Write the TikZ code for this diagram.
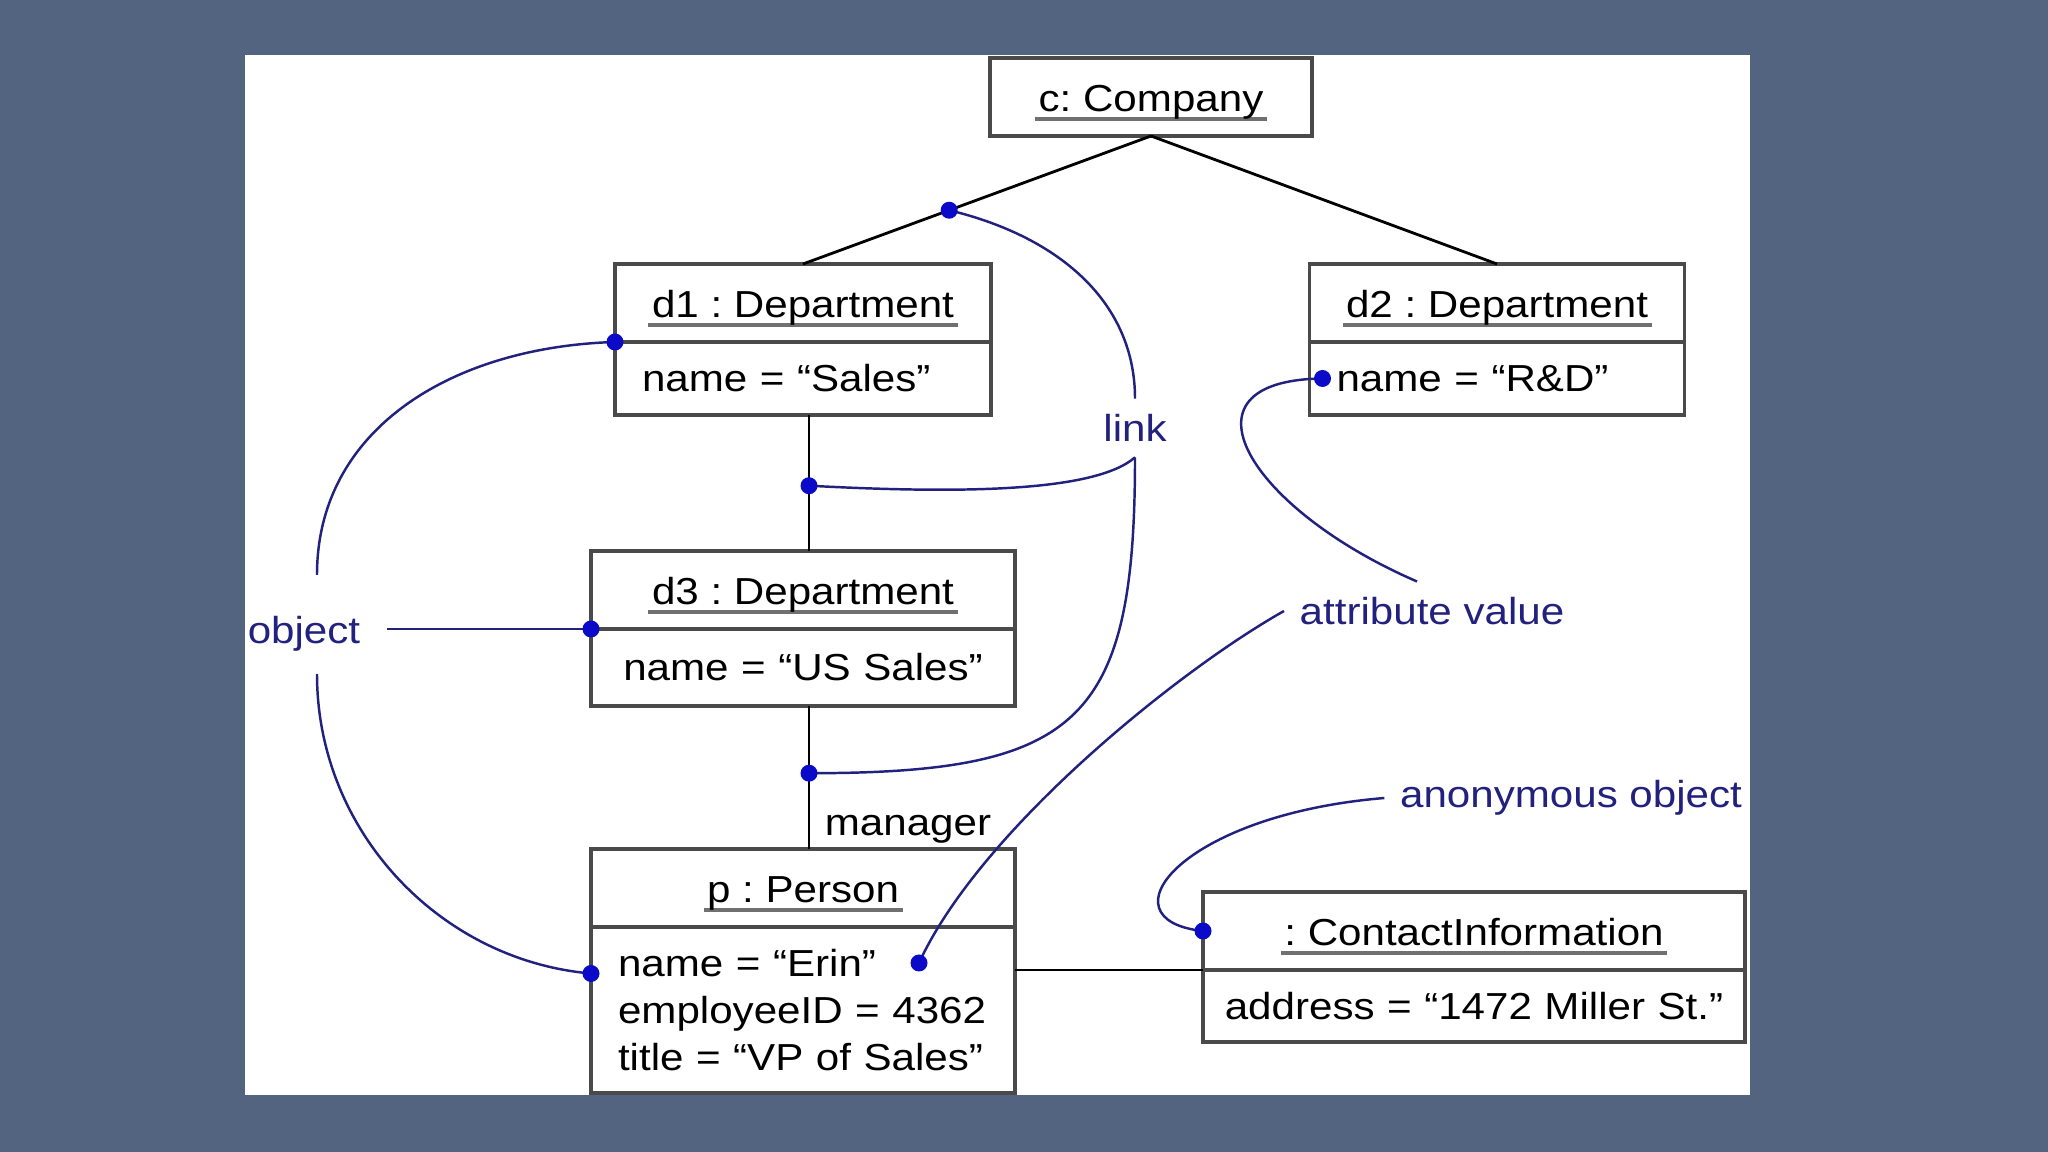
\documentclass[tikz,border=0pt]{standalone}
\usepackage{fontspec}
\setmainfont[FakeStretch=1.12]{Liberation Sans}
\usetikzlibrary{positioning,calc}
\definecolor{SlideSlate}{HTML}{526480}
\definecolor{BoxGray}{HTML}{4A4A4A}
\definecolor{RuleGray}{HTML}{707070}
\definecolor{NoteNavy}{HTML}{22227E}
\definecolor{DotBlue}{HTML}{0A0AC8}
\newcommand{\objfont}{\frenchspacing\fontsize{10.7pt}{13.4pt}\selectfont}
\newcommand{\objname}[1]{\setbox0\hbox{#1}%
  \rlap{\kern-1pt\textcolor{RuleGray}{\rule[-2.6pt]{\dimexpr\wd0+2pt\relax}{1.1pt}}}\box0}

\begin{document}
\begin{tikzpicture}[x=.1mm,y=-.1mm,font=\objfont,
  objhead/.style={draw=BoxGray,line width=.9pt,fill=white,outer sep=0pt,inner sep=0pt,
    minimum width=#1,minimum height=7.8mm,text height=3mm,text depth=0pt},
  objattrs/.style={draw=BoxGray,line width=.9pt,fill=white,outer sep=0pt,inner ysep=0pt,
    inner xsep=2.7mm,text width=#1,align=left},
  linkline/.style={line width=.8pt,black},
  noteline/.style={line width=.7pt,NoteNavy},
  notetext/.style={text=NoteNavy,inner sep=1.5mm}]
  \fill[SlideSlate] (0,0) rectangle (2048,1152);
  \fill[white] (245,55) rectangle (1750,1095);

  % objects
  \node[objhead=32.2mm] (c) at (1151,97) {\objname{c: Company}};
  \node[objhead=37.6mm] (d1) at (803,303) {\objname{d1 : Department}};
  \node[objattrs=32.2mm,minimum height=7.3mm,below=0pt of d1] (d1a) {name = “Sales”};
  \node[objhead=37.5mm] (d2) at (1497,303) {\objname{d2 : Department}};
  \node[objattrs=32.1mm,minimum height=7.3mm,below=0pt of d2] (d2a) {name = “R\&D”};
  \node[objhead=42.4mm] (d3) at (803,590) {\objname{d3 : Department}};
  \node[objattrs=37mm,align=center,minimum height=7.7mm,below=0pt of d3] (d3a) {name = “US Sales”};
  \node[objhead=42.4mm] (p) at (803,888) {\objname{p : Person}};
  \node[objattrs=37mm,minimum height=16.6mm,below=0pt of p] (pa)
    {name = “Erin”\\ employeeID = 4362\\ title = “VP of Sales”};
  \node[objhead=54.2mm] (ci) at (1474,931) {\objname{: ContactInformation}};
  \node[objattrs=52.2mm,inner xsep=1mm,align=center,minimum height=7.2mm,below=0pt of ci] (cia)
    {address = “1472 Miller St.”};

  % links
  \draw[linkline] (c.south) -- (d1.north) coordinate[pos=.58] (k1);
  \draw[linkline] (c.south) -- (d2.north);
  \draw[linkline] ([xshift=.6mm]d1a.south) -- ([xshift=.6mm]d3.north) coordinate[pos=.52] (k2);
  \draw[linkline] ([xshift=.6mm]d3a.south) -- ([xshift=.6mm]p.north) coordinate[pos=.47] (k3);
  \draw[linkline] (pa.east |- ci.south) -- (ci.south west);
  \node (mgr) at (908,829) {manager};

  % notes
  \node[notetext] (link) at (1135,428) {link};
  \node[notetext,inner xsep=2.6mm] (obj) at (304,634) {object};
  \node[notetext] (attr) at (1432,611) {attribute value};
  \node[notetext] (anon) at (1571,798) {anonymous object};

  \coordinate (o1) at (d1.south west);
  \coordinate (o2) at (d3.south west);
  \coordinate (o3) at ($(pa.north west)!.28!(pa.south west)$);
  \coordinate (a1) at ([xshift=1.3mm]d2a.west);
  \coordinate (a2) at ($(pa.north east)+(-96,36)$);
  \coordinate (n1) at (ci.west);

  \draw[noteline] (k1) .. controls +(112,27) and +(0,-95) .. (link.north);
  \draw[noteline] (link.south) .. controls +(-40,35) and +(150,8) .. (k2);
  \draw[noteline] (link.south) .. controls +(0,265) and +(270,0) .. (k3);
  \draw[noteline] ([xshift=1.3mm,yshift=2.6mm]obj.north) .. controls +(0,-145) and +(-164,5) .. (o1);
  \draw[noteline] ([xshift=1.3mm,yshift=-.7mm]obj.south) .. controls +(0,157) and +(-151,-13) .. (o3);
  \draw[noteline] (obj.east |- o2) -- (o2);
  \draw[noteline] ([xshift=-1.5mm]attr.north) .. controls +(-167,-72) and +(-153,2) .. (a1);
  \draw[noteline] (attr.west) .. controls +(-105,59) and +(61,-133) .. (a2);
  \draw[noteline] (anon.west) .. controls +(-205,17) and +(-103,-11) .. (n1);

  \foreach \k in {k1,k2,k3,o1,o2,o3,a1,a2,n1}
    \fill[DotBlue] (\k) circle (.85mm);
\end{tikzpicture}
\end{document}
